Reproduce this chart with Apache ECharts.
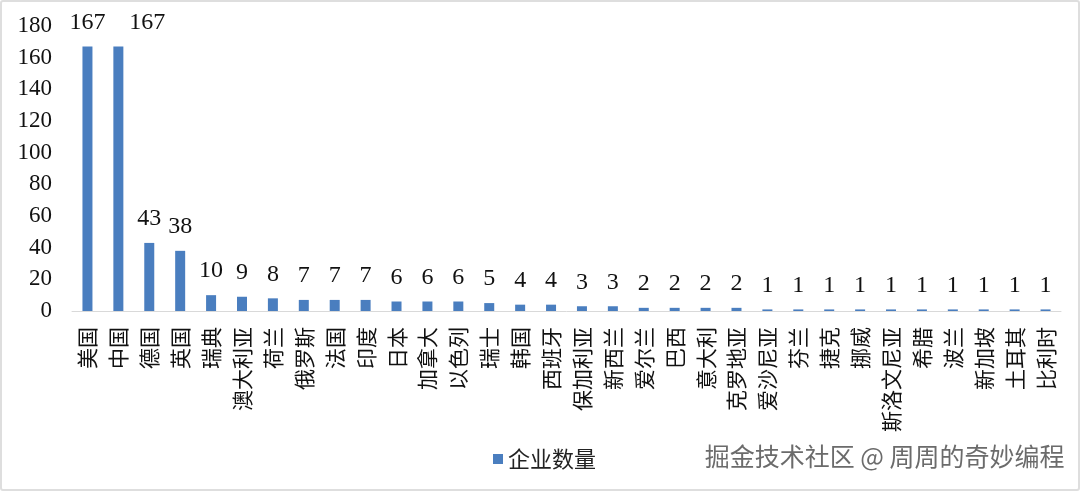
<!DOCTYPE html>
<html><head><meta charset="utf-8">
<script src="https://cdn.jsdelivr.net/npm/echarts@6/dist/echarts.min.js"></script>
<style>
html,body{margin:0;padding:0;background:#fff;}
#wrap{position:relative;width:1080px;height:491px;box-sizing:border-box;border:2px solid #dedede;border-radius:3px;}
#c{position:absolute;left:-2px;top:-2px;width:1080px;height:491px;}
</style></head>
<body><div id="wrap"><div id="c"></div></div>
<script>
const categories = ['美国','中国','德国','英国','瑞典','澳大利亚','荷兰','俄罗斯','法国','印度','日本','加拿大','以色列','瑞士','韩国','西班牙','保加利亚','新西兰','爱尔兰','巴西','意大利','克罗地亚','爱沙尼亚','芬兰','捷克','挪威','斯洛文尼亚','希腊','波兰','新加坡','土耳其','比利时'];
const values = [167,167,43,38,10,9,8,7,7,7,6,6,6,5,4,4,3,3,2,2,2,2,1,1,1,1,1,1,1,1,1,1];
const seriesName = '企业数量';
const watermark = '掘金技术社区 @ 周周的奇妙编程';

// second "167" label is shifted right in the reference to avoid overlap
const seriesData = values.map((v, i) => i === 1 ? {value: v, label: {offset: [29, 0]}} : v);

const chart = echarts.init(document.getElementById('c'));
chart.setOption({
  animation:false,
  backgroundColor:'transparent',
  grid:{left:72,right:19,top:26,bottom:180,containLabel:false},
  legend:{
    data:[seriesName], left:488, top:443, itemWidth:10, itemHeight:10, itemGap:6,
    icon:'rect',
    textStyle:{fontFamily:'Noto Sans CJK SC',fontSize:22,color:'#222'}
  },
  xAxis:{
    type:'category', data:categories,
    axisLine:{lineStyle:{color:'#d9d9d9',width:1}},
    axisTick:{show:false},
    axisLabel:{rotate:90,interval:0,margin:16,fontFamily:'Noto Sans CJK SC',fontSize:21,color:'#111'}
  },
  yAxis:{
    type:'value', min:0, max:180, interval:20,
    splitLine:{show:false}, axisLine:{show:false}, axisTick:{show:false},
    axisLabel:{margin:20,fontFamily:'Liberation Serif',fontSize:23,color:'#111'}
  },
  series:[{
    name:seriesName, type:'bar', data:seriesData, barWidth:10,
    itemStyle:{color:'#4a7ebf'},
    label:{show:true,position:'top',distance:12,fontFamily:'Liberation Serif',fontSize:24,color:'#111'}
  }],
  graphic:[{
    type:'text', right:15, top:443,
    style:{text:watermark,fontFamily:'Noto Sans CJK SC',fontSize:25,fill:'#6b6b6b',stroke:'#fff',lineWidth:1}
  }]
});
</script></body></html>
